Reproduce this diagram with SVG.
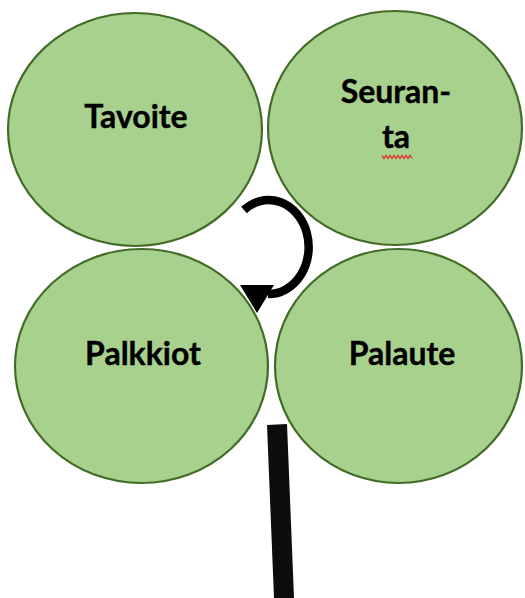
<svg xmlns="http://www.w3.org/2000/svg" width="525" height="598" viewBox="0 0 525 598">
<style>
.leaf{fill:#A9D18E;stroke:#426B28;stroke-width:2.2}
.lbl{font-family:Lato,"Liberation Sans",sans-serif;font-weight:700;font-size:32px;fill:#000;text-anchor:middle;stroke:#000;stroke-width:0.4}
</style>
<rect width="525" height="598" fill="#fff"/>
<g id="tavoite">
<ellipse class="leaf" cx="135" cy="129.5" rx="127" ry="116.5"/>
<text class="lbl" x="136" y="128">Tavoite</text>
</g>
<g id="seuranta">
<ellipse class="leaf" cx="395" cy="128" rx="127" ry="117"/>
<text class="lbl" x="396" y="103">Seuran-</text>
<text class="lbl" x="396" y="148">ta</text>
<path d="M382 155.5 l2 3 l2 -3 l2 3 l2 -3 l2 3 l2 -3 l2 3 l2 -3 l2 3 l2 -3 l2 3 l2 -3 l2 3 l2 -3 l2 3" fill="none" stroke="#E0302A" stroke-width="1.3"/>
</g>
<g id="palkkiot">
<ellipse class="leaf" cx="141.5" cy="366" rx="126.5" ry="117"/>
<text class="lbl" x="143" y="365">Palkkiot</text>
</g>
<g id="palaute">
<ellipse class="leaf" cx="398.5" cy="366" rx="123.5" ry="117"/>
<text class="lbl" x="402" y="365">Palaute</text>
</g>
<g id="connectors">
<path d="M244 210 A40 47 0 1 1 268 294" fill="none" stroke="#000" stroke-width="8.5"/>
<polygon points="240,285 274,285 257,313" fill="#000"/>
<polygon points="267,425 287,424 294,598 274,598" fill="#0d0d0d"/>
</g>
</svg>
